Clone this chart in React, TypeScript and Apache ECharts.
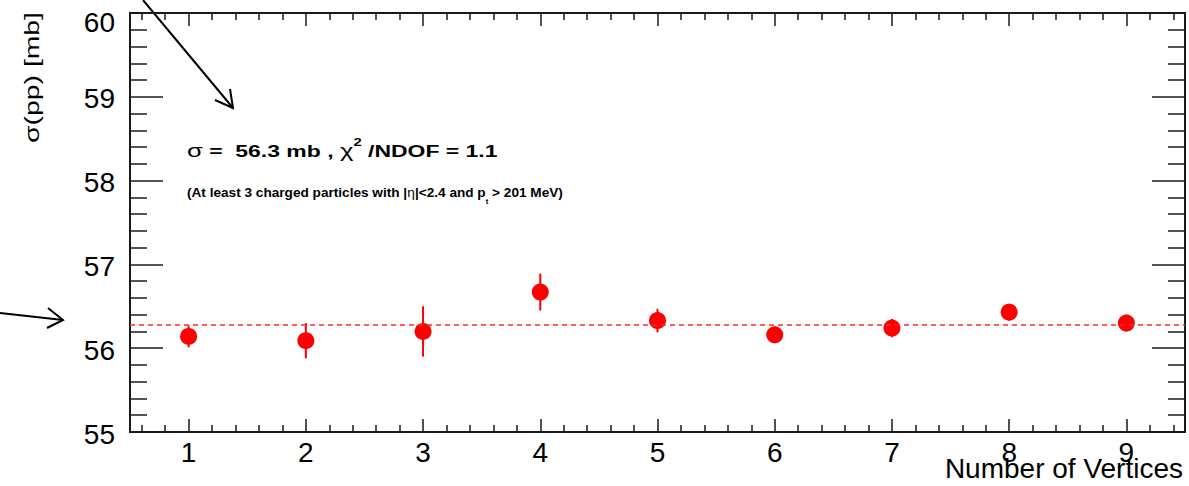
import React, { useEffect, useRef } from "react";
import * as echarts from "echarts";

const vertices = [1, 2, 3, 4, 5, 6, 7, 8, 9];
const sigma = [56.14, 56.09, 56.2, 56.67, 56.33, 56.16, 56.24, 56.43, 56.3];
const sigmaErr = [0.13, 0.21, 0.3, 0.22, 0.14, 0.1, 0.11, 0.1, 0.1];
const fitValue = 56.28;
const yMin = 55;
const yMax = 60;
const xMin = 0.5;
const xMax = 9.5;
const xMajorTicks = [1, 2, 3, 4, 5, 6, 7, 8, 9];
const xMinorStep = 0.2;

const FONT = "Liberation Sans";
const AXIS_COLOR = "#1a1a1a";

const xMinorTicks: number[] = [];
for (let k = Math.ceil(xMin / xMinorStep); k * xMinorStep <= xMax + 1e-9; k++) {
  const v = Math.round(k * xMinorStep * 10) / 10;
  if (!xMajorTicks.includes(v)) xMinorTicks.push(v);
}

export default function App() {
  const ref = useRef<HTMLDivElement>(null);
  useEffect(() => {
    if (!ref.current) return;
    const chart = echarts.init(ref.current, undefined, { renderer: "svg" });
    const baseX = {
      type: "value",
      min: xMin,
      max: xMax,
      splitLine: { show: false },
    };
    const tickStyle = { color: AXIS_COLOR, width: 1.5 };
    const option: any = {
      animation: false,
      backgroundColor: "#ffffff",
      grid: { left: 130, top: 13, right: 4, bottom: 54, containLabel: false, outerBoundsMode: "none" },
      xAxis: [
        {
          ...baseX,
          position: "bottom",
          axisLine: { show: true, lineStyle: { color: AXIS_COLOR, width: 2 } },
          axisTick: { show: true, inside: true, length: 13, customValues: xMajorTicks, lineStyle: tickStyle },
          axisLabel: {
            show: true,
            customValues: xMajorTicks,
            fontFamily: FONT,
            fontSize: 28,
            color: "#000",
            margin: 6,
          },
        },
        {
          ...baseX,
          position: "bottom",
          axisLine: { show: false },
          axisTick: { show: true, inside: true, length: 7, customValues: xMinorTicks, lineStyle: tickStyle },
          axisLabel: { show: false },
        },
        {
          ...baseX,
          position: "top",
          axisLine: { show: true, lineStyle: { color: AXIS_COLOR, width: 2 } },
          axisTick: { show: true, inside: true, length: 13, customValues: xMajorTicks, lineStyle: tickStyle },
          axisLabel: { show: false },
        },
        {
          ...baseX,
          position: "top",
          axisLine: { show: false },
          axisTick: { show: true, inside: true, length: 7, customValues: xMinorTicks, lineStyle: tickStyle },
          axisLabel: { show: false },
        },
      ],
      yAxis: [
        {
          type: "value",
          position: "left",
          min: yMin,
          max: yMax,
          interval: 1,
          splitLine: { show: false },
          axisLine: { show: true, lineStyle: { color: AXIS_COLOR, width: 2 } },
          axisTick: { show: true, inside: true, length: 33, lineStyle: tickStyle },
          minorTick: { show: true, splitNumber: 5, length: 17, lineStyle: tickStyle },
          minorSplitLine: { show: false },
          axisLabel: {
            fontFamily: FONT,
            fontSize: 28,
            color: "#000",
            margin: 15,
            formatter: (v: number) => (v === yMax ? "{top|" + v + "}" : "{n|" + v + "}"),
            rich: {
              n: { fontFamily: FONT, fontSize: 28, color: "#000", padding: [4, 0, 0, 0] },
              top: { fontFamily: FONT, fontSize: 28, color: "#000", padding: [18, 0, 0, 0] },
            },
          },
        },
        {
          type: "value",
          position: "right",
          min: yMin,
          max: yMax,
          interval: 1,
          splitLine: { show: false },
          axisLine: { show: true, lineStyle: { color: AXIS_COLOR, width: 2 } },
          axisTick: { show: true, inside: true, length: 33, lineStyle: tickStyle },
          minorTick: { show: true, splitNumber: 5, length: 17, lineStyle: tickStyle },
          minorSplitLine: { show: false },
          axisLabel: { show: false },
        },
      ],
      series: [
        {
          type: "custom",
          xAxisIndex: 0,
          yAxisIndex: 0,
          data: vertices.map((v, i) => [v, sigma[i], sigmaErr[i]]),
          renderItem: (params: any, api: any) => {
            const x = api.value(0);
            const y = api.value(1);
            const e = api.value(2);
            const p1 = api.coord([x, y + e]);
            const p2 = api.coord([x, y - e]);
            return {
              type: "line",
              shape: { x1: p1[0], y1: p1[1], x2: p2[0], y2: p2[1] },
              style: { stroke: "#ff0000", lineWidth: 2 },
            };
          },
          z: 3,
        },
        {
          type: "scatter",
          xAxisIndex: 0,
          yAxisIndex: 0,
          data: vertices.map((v, i) => [v, sigma[i]]),
          symbol: "circle",
          symbolSize: 17,
          itemStyle: { color: "#ff0000", opacity: 1 },
          z: 4,
          markLine: {
            silent: true,
            symbol: "none",
            label: { show: false },
            lineStyle: { color: "#ff2a2a", type: [5, 4], width: 1.5, opacity: 1 },
            data: [{ yAxis: fitValue }],
          },
        },
      ],
      graphic: [
        {
          type: "text",
          x: 31,
          y: 12,
          rotation: Math.PI / 2,
          scaleX: 1.35,
          style: {
            text: "σ(pp) [mb]",
            fontFamily: FONT,
            fontSize: 21,
            fill: "#000",
            align: "right",
            verticalAlign: "middle",
          },
        },
        {
          type: "text",
          x: 1183,
          y: 468,
          style: {
            text: "Number of Vertices",
            fontFamily: FONT,
            fontSize: 28,
            fill: "#000",
            align: "right",
            verticalAlign: "middle",
          },
        },
        {
          type: "text",
          x: 187,
          y: 151,
          scaleX: 1.35,
          style: {
            text: "{s|σ} =  56.3 mb , {s|χ}{sup|2} /NDOF = 1.1",
            fontFamily: FONT,
            fontSize: 17,
            fontWeight: "bold",
            fill: "#000",
            verticalAlign: "middle",
            rich: {
              s: { fontFamily: FONT, fontSize: 19, fontWeight: "normal", fill: "#000" },
              sup: { fontFamily: FONT, fontSize: 11, fontWeight: "bold", fill: "#000", padding: [0, 0, 18, 0] },
            },
          },
        },
        {
          type: "text",
          x: 187,
          y: 193,
          scaleX: 1.09,
          style: {
            text: "(At least 3 charged particles with |{s|η}|<2.4 and p{sub|t} > 201 MeV)",
            fontFamily: FONT,
            fontSize: 12.5,
            fontWeight: "bold",
            fill: "#000",
            verticalAlign: "middle",
            rich: {
              s: { fontFamily: FONT, fontSize: 12.5, fontWeight: "normal", fill: "#000" },
              sub: { fontFamily: FONT, fontSize: 7, fontWeight: "bold", fill: "#000", padding: [18, 0, 0, 0] },
            },
          },
        },
        {
          type: "line",
          shape: { x1: 143, y1: 0, x2: 233, y2: 108 },
          style: { stroke: "#000", lineWidth: 2 },
        },
        {
          type: "polyline",
          shape: { points: [[215, 100], [233, 108], [230, 89]] },
          style: { stroke: "#000", lineWidth: 2, fill: null },
        },
        {
          type: "line",
          shape: { x1: 0, y1: 313, x2: 63, y2: 320 },
          style: { stroke: "#000", lineWidth: 2 },
        },
        {
          type: "polyline",
          shape: { points: [[48, 308], [63, 320], [47, 328]] },
          style: { stroke: "#000", lineWidth: 2, fill: null },
        },
      ],
    };
    chart.setOption(option);
    return () => chart.dispose();
  }, []);
  return (
    <div
      ref={ref}
      style={{ position: "absolute", left: 0, top: 0, width: 1189, height: 486, background: "#fff" }}
    />
  );
}
